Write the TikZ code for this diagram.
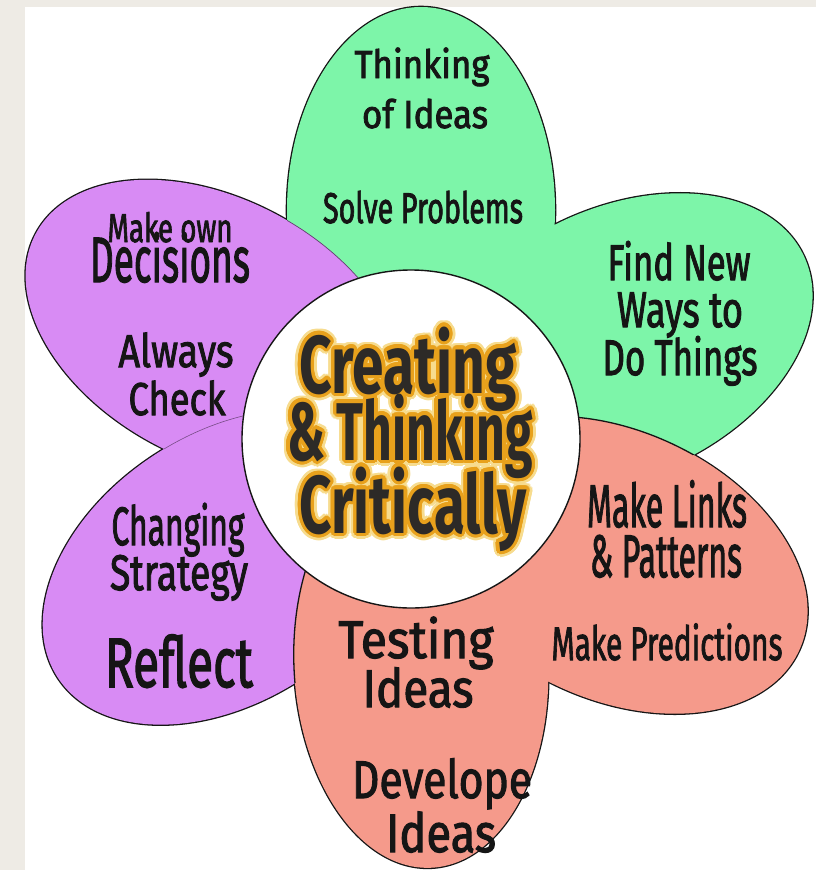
\documentclass[tikz,border=0pt]{standalone}
\usepackage{fontspec}
\setmainfont{Fira Sans}
\newfontfamily\petalfont[FakeBold=2.2]{Fira Sans}
\usepackage{graphicx}
\definecolor{bgbeige}{HTML}{EEEBE5}
\definecolor{pgreen}{HTML}{7DF5A9}
\definecolor{ppurple}{HTML}{D88BF4}
\definecolor{psalmon}{HTML}{F59A8B}
\definecolor{ctext}{HTML}{2D2A27}
\definecolor{corange}{HTML}{E8A11C}
\definecolor{cglow}{HTML}{F7DC8E}
\definecolor{inkc}{HTML}{151515}
\newcommand{\pline}[3]{\resizebox{#2pt}{\height}{\petalfont\fontsize{#1}{#1}\selectfont #3}}
\newcommand{\hubline}[2]{\resizebox{#1pt}{\height}{\bfseries\fontsize{82}{82}\selectfont #2}}
\def\pUL{(215,329) ellipse [x radius=203pt, y radius=130pt]}
\def\pUR{(620,342) ellipse [x radius=203pt, y radius=134pt]}
\def\pTP{(421,210) ellipse [x radius=203pt, y radius=134pt]}
\def\pLL{(228,567) ellipse [x radius=203pt, y radius=134pt]}
\def\pBT{(421,665) ellipse [x radius=203pt, y radius=127pt]}
\def\pLR{(615,565) ellipse [x radius=203pt, y radius=134pt]}
\begin{document}
\begin{tikzpicture}[x=1pt,y=-1pt,
  ULt/.style={rotate around={-28:(215,329)}},
  URt/.style={rotate around={25:(620,342)}},
  TPt/.style={rotate around={90:(421,210)}},
  LLt/.style={rotate around={33:(228,567)}},
  BTt/.style={rotate around={-87:(421,665)}},
  LRt/.style={rotate around={-25:(615,565)}},
  rim/.style={draw=inkc, line width=2.6pt},
  edge/.style={draw=inkc, line width=1.3pt},
  softedge/.style={draw=ppurple!45!black, line width=0.7pt},
  faint/.style={draw=ppurple!55!black, line width=0.6pt},
  lbl/.style={inner sep=0pt, anchor=base, text=inkc},
  cl/.style={inner sep=0pt, anchor=base}]
\useasboundingbox (0,0) rectangle (816,870);
\fill[bgbeige] (0,0) rectangle (816,870);
\fill[white] (25,7) rectangle (816,870);
% outer rim of the union of the petals
\path[rim, ULt] \pUL;
\path[rim, URt] \pUR;
\path[rim, TPt] \pTP;
\path[rim, LLt] \pLL;
\path[rim, BTt] \pBT;
\path[rim, LRt] \pLR;
% fills, back to front
\fill[pgreen, TPt] \pTP;
\fill[pgreen, URt] \pUR;
\fill[ppurple, ULt] \pUL;
\begin{scope}
  \clip[TPt] \pTP;
  \path[softedge, ULt] \pUL;
\end{scope}
\fill[ppurple, LLt] \pLL;
\begin{scope}
  \clip[ULt] \pUL;
  \path[faint, LLt] \pLL;
\end{scope}
\fill[psalmon, LRt] \pLR;
\begin{scope}
  \clip[URt] \pUR;
  \path[edge, LRt] \pLR;
\end{scope}
\fill[psalmon, BTt] \pBT;
\begin{scope}
  \clip[LLt] \pLL;
  \path[edge, BTt] \pBT;
\end{scope}
% centre disc
\node[circle, draw=inkc, line width=1.4pt, fill=white, minimum size=338pt, inner sep=0pt] (hub) at (411,439) {};
% centre title: pale glow, orange ring, dark letters
\foreach \lid/\x/\y/\w/\t in {a/408/393/217/Creating, b/410/460/246/{\& Thinking}, c/413/533/227/Critically} {
  \foreach \a in {0,15,...,345} {
    \node[cl, text=cglow] (g\lid\a) at ([shift={(\a:6pt)}] \x,\y) {\hubline{\w}{\t}};
  }
}
\foreach \lid/\x/\y/\w/\t in {a/408/393/217/Creating, b/410/460/246/{\& Thinking}, c/413/533/227/Critically} {
  \foreach \a in {0,15,...,345} {
    \node[cl, text=corange] (o\lid\a) at ([shift={(\a:3.4pt)}] \x,\y) {\hubline{\w}{\t}};
  }
}
\foreach \lid/\x/\y/\w/\t in {a/408/393/217/Creating, b/410/460/246/{\& Thinking}, c/413/533/227/Critically} {
  \node[cl, text=ctext] (c\lid) at (\x,\y) {\hubline{\w}{\t}};
}
% petal texts
\node[lbl] (t1) at (422,78) {\pline{39}{135}{Thinking}};
\node[lbl] (t2) at (425,128) {\pline{39}{126}{of Ideas}};
\node[lbl] (t3) at (423,223) {\pline{43}{200}{Solve Problems}};
\node[lbl] (r1) at (679,280) {\pline{50}{143}{Find New}};
\node[lbl] (r2) at (680,327) {\pline{50}{126}{Ways to}};
\node[lbl] (r3) at (680,375) {\pline{50}{155}{Do Things}};
\node[lbl] (u1) at (170,242) {\pline{40}{125}{Make own}};
\node[lbl] (u2) at (170,282) {\pline{64}{160}{Decisions}};
\node[lbl] (u3) at (176,367) {\pline{46}{115}{Always}};
\node[lbl] (u4) at (177,415) {\pline{46}{97}{Check}};
\node[lbl] (l1) at (178,545) {\pline{54}{133}{Changing}};
\node[lbl] (l2) at (179,590) {\pline{50}{138}{Strategy}};
\node[lbl] (l3) at (179,687) {\pline{70}{148}{Reflect}};
\node[lbl] (b1) at (416,658) {\pline{53}{155}{Testing}};
\node[lbl] (b2) at (418,707) {\pline{53}{111}{Ideas}};
\node[lbl] (b3) at (442,798) {\pline{53}{180}{Develope}};
\node[lbl] (b4) at (441,852) {\pline{54}{110}{Ideas}};
\node[lbl] (p1) at (667,527) {\pline{60}{160}{Make Links}};
\node[lbl] (p2) at (666,577) {\pline{60}{152}{\& Patterns}};
\node[lbl] (p3) at (667,660) {\pline{47}{231}{Make Predictions}};
\end{tikzpicture}
\end{document}
